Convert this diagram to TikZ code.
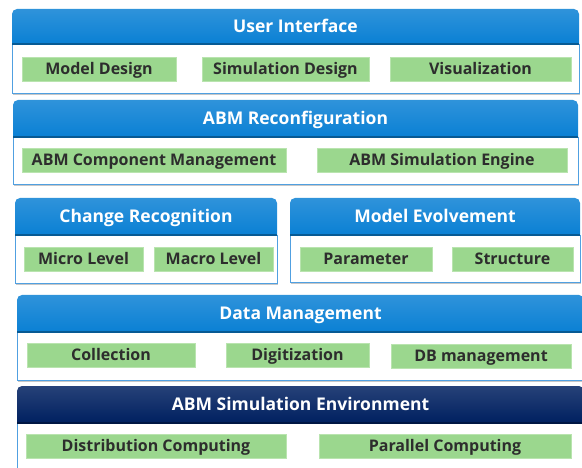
\documentclass[tikz,border=0pt]{standalone}
\usepackage{fontspec}
\setmainfont{Open Sans}

\definecolor{hdblue}{RGB}{10,128,212}
\definecolor{hdnavy}{RGB}{0,32,96}
\definecolor{bodyline}{RGB}{80,160,225}
\definecolor{itemgreen}{RGB}{155,215,142}
\definecolor{itemedge}{RGB}{185,228,175}
\definecolor{itemtext}{RGB}{45,45,45}

\begin{document}
\begin{tikzpicture}[x=1pt,y=-1pt,
    title/.style={text=white, inner sep=0pt, text height=12.5pt, text depth=0pt,
      font=\fontsize{17.5}{21}\selectfont\bfseries},
    item/.style={fill=itemgreen, draw=itemedge, line width=0.6pt,
      minimum height=24pt, inner sep=0pt, text height=11.5pt, text depth=0pt,
      text=itemtext, font=\fontsize{16}{19}\selectfont\bfseries}]

    \useasboundingbox (0,0) rectangle (582,468);
    \clip (0,0) rectangle (582,468);

    % layers: name / left / right / top / header bottom / bottom / colour / title
    \foreach \name/\xa/\xb/\ya/\yb/\yc/\hdc/\txt in {
        ui/12/579/9/44/93/hdblue/User Interface,
        abm/13/578/100/137/184/hdblue/ABM Reconfiguration,
        cr/15/277/198/235/283/hdblue/Change Recognition,
        me/290/580/198/235/282/hdblue/Model Evolvement,
        dm/17/584/295/332/380/hdblue/Data Management,
        env/17/584/386/423/472/hdnavy/ABM Simulation Environment}
    {
      \fill[black!22] (\xa+1,\yb) rectangle (\xb+1,\yc+2);
      \draw[bodyline, fill=white, line width=0.8pt] (\xa,\yb) rectangle (\xb,\yc);
      \shade[top color=\hdc!85!white, bottom color=\hdc]
        (\xa,\yb) [rounded corners=5pt] -- (\xa,\ya) -- (\xb,\ya)
        [sharp corners] -- (\xb,\yb) -- cycle;
      \draw[\hdc!70!black, line width=1.5pt] (\xa,\yb) -- (\xb,\yb);
      \node[title] (\name) at ({(\xa+\xb)/2},{(\ya+\yb)/2}) {\txt};
    }

    % User Interface
    \node[item, minimum width=154pt] (md) at (99,69) {Model Design};
    \node[item, minimum width=167pt] (sd) at (285.5,69) {Simulation Design};
    \node[item, minimum width=181pt] (vis) at (480.5,69) {Visualization};

    % ABM Reconfiguration
    \node[item, minimum width=264pt] (acm) at (154,160) {ABM Component Management};
    \node[item, minimum width=250pt] (ase) at (442,160) {ABM Simulation Engine};

    % Change Recognition, Model Evolvement
    \node[item, minimum width=119pt] (mic) at (83.5,259) {Micro Level};
    \node[item, minimum width=119pt] (mac) at (213.5,259) {Macro Level};
    \node[item, minimum width=132pt] (par) at (366,259) {Parameter};
    \node[item, minimum width=121pt] (str) at (512.5,259) {Structure};

    % Data Management
    \node[item, minimum width=168pt] (col) at (111,355) {Collection};
    \node[item, minimum width=143pt] (dig) at (297.5,355) {Digitization};
    \node[item, minimum width=180pt] (dbm) at (481,356) {DB management};

    % ABM Simulation Environment
    \node[item, minimum width=260pt] (dc) at (156,446) {Distribution Computing};
    \node[item, minimum width=252pt] (pc) at (445,446) {Parallel Computing};
\end{tikzpicture}
\end{document}
